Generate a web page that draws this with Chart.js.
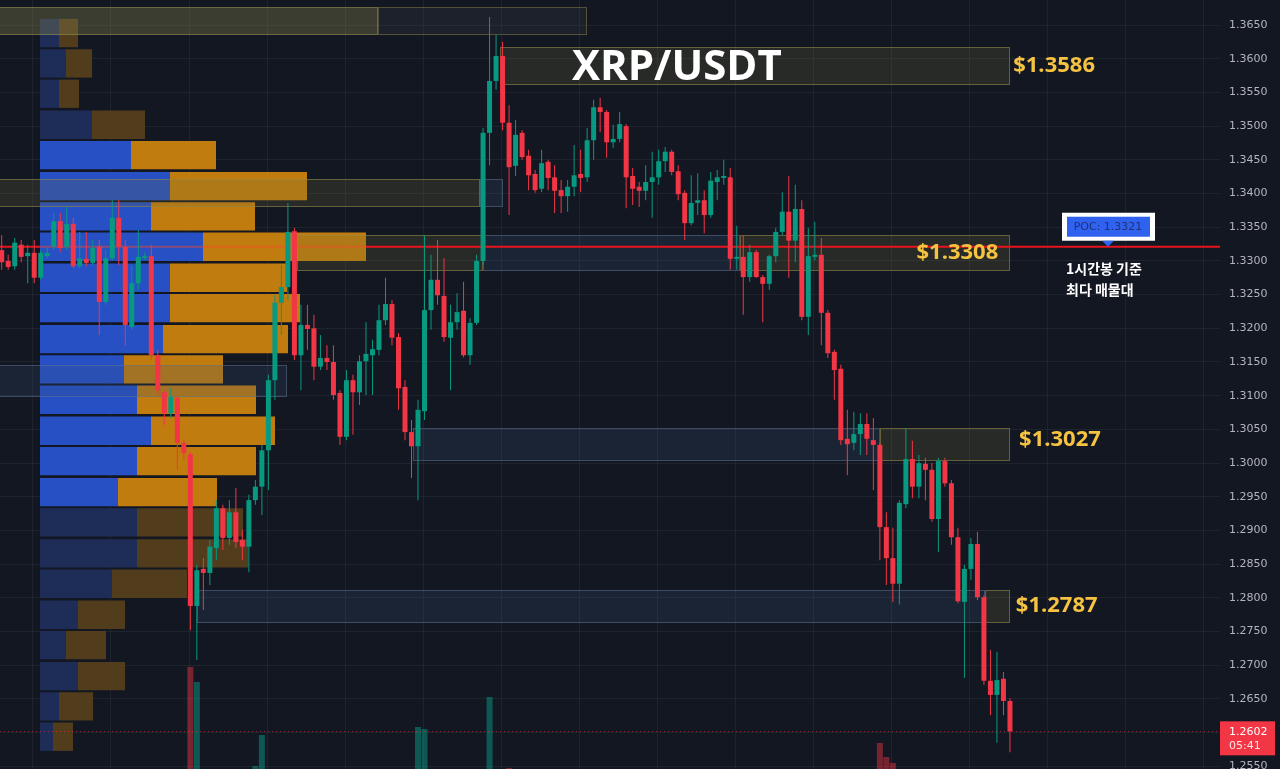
<!DOCTYPE html>
<html>
<head>
<meta charset="utf-8">
<script src="https://cdn.jsdelivr.net/npm/chart.js@4.4.1/dist/chart.umd.min.js"></script>
<style>
  html, body { margin: 0; padding: 0; background: #131722; overflow: hidden; }
  canvas { display: block; }
</style>
</head>
<body>
<canvas id="xrpChart" width="1280" height="769"></canvas>
<script>
// XRP/USDT hourly candles (index = candle number)
const opens = [1.3316,1.3300,1.3292,1.3324,1.3307,1.3312,1.3275,1.3307,1.3321,1.3359,1.3321,1.3355,1.3292,1.3303,1.3297,1.3321,1.3239,1.3304,1.3364,1.3321,
  1.3202,1.3267,1.3304,1.3307,1.3160,1.3105,1.3074,1.3097,1.3030,1.3013,1.2788,1.2843,1.2837,1.2874,1.2933,1.2889,1.2927,1.2886,1.2876,1.2945,
  1.2965,1.3019,1.3123,1.3238,1.3261,1.3344,1.3160,1.3205,1.3200,1.3143,1.3156,1.3150,1.3104,1.3039,1.3123,1.3105,1.3151,1.3160,1.3168,1.3212,
  1.3236,1.3187,1.3113,1.3046,1.3025,1.3077,1.3227,1.3272,1.3248,1.3186,1.3209,1.3226,1.3160,1.3208,1.3300,1.3490,1.3567,1.3604,1.3505,1.3441,
  1.3490,1.3456,1.3429,1.3407,1.3447,1.3424,1.3405,1.3396,1.3410,1.3429,1.3424,1.3479,1.3528,1.3521,1.3476,1.3481,1.3500,1.3426,1.3410,1.3404,
  1.3417,1.3424,1.3448,1.3462,1.3433,1.3401,1.3356,1.3386,1.3390,1.3368,1.3417,1.3423,1.3424,1.3303,1.3306,1.3276,1.3313,1.3276,1.3266,1.3307,
  1.3343,1.3373,1.3330,1.3377,1.3217,1.3306,1.3309,1.3223,1.3165,1.3140,1.3036,1.3030,1.3043,1.3058,1.3034,1.3027,1.2905,1.2859,1.2821,1.2939,
  1.3006,1.2965,1.2999,1.2990,1.2917,1.3003,1.2970,1.2890,1.2794,1.2843,1.2880,1.2801,1.2677,1.2656,1.2680,1.2647];
const highs = [1.3338,1.3309,1.3334,1.3331,1.3324,1.3331,1.3316,1.3319,1.3371,1.3371,1.3380,1.3364,1.3343,1.3343,1.3331,1.3331,1.3316,1.3390,1.3390,1.3331,
  1.3294,1.3346,1.3312,1.3324,1.3168,1.3108,1.3111,1.3101,1.3034,1.3016,1.2849,1.2859,1.2886,1.2945,1.2938,1.2945,1.2963,1.2901,1.2953,1.2975,
  1.3027,1.3131,1.3249,1.3294,1.3386,1.3349,1.3235,1.3235,1.3220,1.3190,1.3175,1.3175,1.3108,1.3138,1.3131,1.3160,1.3209,1.3183,1.3235,1.3275,
  1.3242,1.3193,1.3123,1.3064,1.3094,1.3338,1.3309,1.3331,1.3304,1.3235,1.3252,1.3269,1.3215,1.3309,1.3497,1.3662,1.3635,1.3625,1.3531,1.3509,
  1.3494,1.3465,1.3435,1.3465,1.3450,1.3442,1.3420,1.3420,1.3472,1.3465,1.3497,1.3539,1.3542,1.3524,1.3502,1.3521,1.3503,1.3438,1.3417,1.3442,
  1.3462,1.3465,1.3469,1.3465,1.3442,1.3405,1.3427,1.3430,1.3405,1.3432,1.3435,1.3450,1.3438,1.3352,1.3338,1.3324,1.3316,1.3279,1.3309,1.3349,
  1.3402,1.3426,1.3413,1.3390,1.3349,1.3358,1.3334,1.3227,1.3168,1.3146,1.3079,1.3076,1.3074,1.3074,1.3067,1.3030,1.2927,1.2904,1.2945,1.3052,
  1.3033,1.3012,1.3008,1.3000,1.3008,1.3008,1.2975,1.2904,1.2849,1.2889,1.2898,1.2804,1.2723,1.2720,1.2690,1.2651];
const lows = [1.3287,1.3287,1.3287,1.3298,1.3267,1.3267,1.3272,1.3304,1.3316,1.3313,1.3316,1.3289,1.3289,1.3292,1.3294,1.3190,1.3235,1.3301,1.3294,1.3175,
  1.3198,1.3257,1.3301,1.3153,1.3101,1.3057,1.3067,1.2990,1.3005,1.2752,1.2708,1.2782,1.2819,1.2856,1.2871,1.2879,1.2874,1.2856,1.2838,1.2938,
  1.2923,1.2960,1.3094,1.3190,1.3242,1.3153,1.3108,1.3168,1.3123,1.3138,1.3138,1.3094,1.3027,1.3034,1.3042,1.3086,1.3101,1.3101,1.3160,1.3205,
  1.3175,1.3079,1.3034,1.2978,1.2945,1.3064,1.3198,1.3235,1.3180,1.3108,1.3198,1.3157,1.3146,1.3205,1.3294,1.3442,1.3554,1.3494,1.3368,1.3426,
  1.3450,1.3405,1.3401,1.3402,1.3405,1.3371,1.3371,1.3373,1.3396,1.3402,1.3417,1.3450,1.3491,1.3453,1.3468,1.3476,1.3378,1.3383,1.3380,1.3390,
  1.3364,1.3413,1.3432,1.3427,1.3390,1.3331,1.3353,1.3368,1.3341,1.3364,1.3390,1.3413,1.3287,1.3287,1.3220,1.3269,1.3275,1.3209,1.3257,1.3298,
  1.3338,1.3275,1.3298,1.3212,1.3190,1.3301,1.3175,1.3156,1.3094,1.3027,1.2982,1.3019,1.3012,1.3012,1.2960,1.2856,1.2819,1.2794,1.2790,1.2933,
  1.2948,1.2948,1.2945,1.2913,1.2868,1.2965,1.2879,1.2792,1.2681,1.2827,1.2797,1.2671,1.2626,1.2585,1.2626,1.2571];
const closes = [1.3298,1.3291,1.3327,1.3306,1.3312,1.3275,1.3312,1.3312,1.3359,1.3319,1.3355,1.3292,1.3304,1.3297,1.3319,1.3239,1.3304,1.3364,1.3321,1.3205,
  1.3267,1.3306,1.3307,1.3160,1.3108,1.3074,1.3098,1.3030,1.3015,1.2788,1.2841,1.2837,1.2876,1.2933,1.2889,1.2927,1.2883,1.2876,1.2945,1.2965,
  1.3019,1.3123,1.3238,1.3261,1.3343,1.3160,1.3205,1.3199,1.3143,1.3156,1.3150,1.3101,1.3039,1.3123,1.3105,1.3151,1.3162,1.3169,1.3212,1.3236,
  1.3186,1.3111,1.3046,1.3025,1.3079,1.3227,1.3272,1.3249,1.3187,1.3209,1.3224,1.3160,1.3208,1.3300,1.3490,1.3567,1.3604,1.3505,1.3439,1.3487,
  1.3454,1.3427,1.3405,1.3445,1.3423,1.3404,1.3396,1.3410,1.3427,1.3423,1.3479,1.3528,1.3521,1.3476,1.3481,1.3503,1.3424,1.3407,1.3404,1.3417,
  1.3424,1.3448,1.3462,1.3432,1.3399,1.3356,1.3386,1.3390,1.3368,1.3419,1.3424,1.3426,1.3303,1.3306,1.3276,1.3313,1.3276,1.3266,1.3307,1.3343,
  1.3373,1.3330,1.3377,1.3217,1.3307,1.3309,1.3223,1.3163,1.3138,1.3034,1.3028,1.3043,1.3058,1.3036,1.3027,1.2905,1.2859,1.2821,1.2941,1.3006,
  1.2965,1.3000,1.2990,1.2917,1.3003,1.2970,1.2890,1.2795,1.2843,1.2880,1.2801,1.2677,1.2656,1.2678,1.2647,1.2602];

// bottom volume histogram: only the bars that rise into view
const volumeIdx = [29, 30, 39, 40, 64, 65, 75, 78, 135, 136, 137];
const volumeVals = [102, 87, 3, 34, 42, 40, 72, 1, 26, 12, 6];

// volume profile rows (mid price of each row), buy / sell volume
const profileLevels = [1.3638,1.3593,1.3548,1.3502,1.3457,1.3411,1.3366,1.3321,1.3275,1.3230,1.3184,1.3139,
  1.3094,1.3048,1.3003,1.2957,1.2912,1.2866,1.2821,1.2775,1.2730,1.2684,1.2639,1.2594];
const profileBuy  = [19,26,19,52,91,130,111,163,130,130,123,84,97,111,97,78,97,97,72,38,26,38,19,13];
const profileSell = [19,26,20,53,85,137,104,163,117,130,125,99,119,124,119,99,106,111,75,47,40,47,34,20];
const valueAreaFirst = 4, valueAreaLast = 15;

// supply / demand zones: candle index range and price range
const zoneFrom   = [-1, 57.9, 76.6, -1, 73.5, 45.4, 74.0, 113.5, -1, 63.2, 135.0, 30.0, 151.2];
const zoneTo     = [57.9, 90.0, 155.0, 73.5, 77.1, 74.0, 113.5, 155.0, 43.9, 135.0, 155.0, 151.2, 155.0];
const zoneTop    = [1.3677, 1.3677, 1.3617, 1.3421, 1.3421, 1.3338, 1.3338, 1.3338, 1.3145, 1.3052, 1.3052, 1.2812, 1.2812];
const zoneBottom = [1.3635, 1.3635, 1.3561, 1.3380, 1.3380, 1.3285, 1.3285, 1.3285, 1.3098, 1.3003, 1.3003, 1.2763, 1.2763];
const zoneKind   = ['oliveLight','gray','olive','olive','blue','olive','blue','olive','blue','blue','olive','blue','olive'];

const levelTexts  = ['$1.3586', '$1.3308', '$1.3027', '$1.2787'];
const levelIdx    = [155.5, 153.2, 156.4, 155.9];
const levelPrice  = [1.3589, 1.3312, 1.3035, 1.2788];
const levelAlign  = ['left', 'right', 'left', 'left'];

const pocPrice = 1.3321;
const lastPrice = 1.2602;
const countdown = '05:41';

const Y_MIN = 1.25461, Y_MAX = 1.36871;
const GREEN = '#089981', RED = '#f23645';
const GRID = 'rgba(42,46,57,0.55)';

const idx = opens.map((_, i) => i);
const up = opens.map((o, i) => closes[i] >= o);

const zoneStyles = {
    olive:      { fill: 'rgba(120,112,60,0.22)', stroke: 'rgba(150,140,75,0.55)' },
    oliveLight: { fill: 'rgba(140,135,80,0.34)', stroke: 'rgba(150,140,75,0.55)' },
    gray:       { fill: 'rgba(70,75,85,0.20)',   stroke: 'rgba(150,140,75,0.45)' },
    blue:       { fill: 'rgba(60,85,120,0.22)',  stroke: 'rgba(95,115,145,0.5)' }
};

const overlay = {
    id: 'overlay',
    afterDatasetDraw(chart, args) {
        if (chart.data.datasets[args.index].label !== 'Sell volume') return;
        const { ctx, chartArea: a, scales: { x, y, xv } } = chart;
        ctx.save();
        ctx.beginPath();
        ctx.rect(a.left, a.top, a.right - a.left, a.bottom - a.top);
        ctx.clip();
        zoneFrom.forEach((from, i) => {
            const st = zoneStyles[zoneKind[i]];
            const x0 = Math.round(x.getPixelForValue(from)), x1 = Math.round(x.getPixelForValue(zoneTo[i]));
            const y0 = Math.round(y.getPixelForValue(zoneTop[i])), y1 = Math.round(y.getPixelForValue(zoneBottom[i]));
            ctx.fillStyle = st.fill;
            ctx.fillRect(x0, y0, x1 - x0, y1 - y0);
            ctx.strokeStyle = st.stroke;
            ctx.lineWidth = 1;
            ctx.strokeRect(x0 + 0.5, y0 + 0.5, x1 - x0 - 1, y1 - y0 - 1);
        });
        // last price dotted line
        const yl = Math.round(y.getPixelForValue(lastPrice)) + 0.5;
        ctx.setLineDash([1, 3]);
        ctx.strokeStyle = 'rgba(242,54,69,0.55)';
        ctx.beginPath(); ctx.moveTo(a.left, yl); ctx.lineTo(a.right, yl); ctx.stroke();
        ctx.setLineDash([]);
        // POC line, faint where it crosses the profile
        const yp = y.getPixelForValue(pocPrice);
        const pocRow = profileLevels.indexOf(pocPrice);
        const px0 = xv.getPixelForValue(0), px1 = xv.getPixelForValue(profileBuy[pocRow] + profileSell[pocRow]);
        ctx.lineWidth = 2;
        ctx.strokeStyle = '#e8141c';
        ctx.beginPath(); ctx.moveTo(a.left, yp); ctx.lineTo(px0, yp); ctx.moveTo(px1, yp); ctx.lineTo(a.right, yp); ctx.stroke();
        ctx.strokeStyle = 'rgba(255,70,40,0.45)';
        ctx.beginPath(); ctx.moveTo(px0, yp); ctx.lineTo(px1, yp); ctx.stroke();
        ctx.restore();
    },
    afterDraw(chart) {
        const { ctx, chartArea: a, scales: { x, y } } = chart;
        ctx.save();
        // title
        ctx.fillStyle = '#ffffff';
        ctx.font = 'bold 42px "Open Sans"';
        ctx.textAlign = 'left';
        ctx.textBaseline = 'alphabetic';
        ctx.fillText('XRP/USDT', 572, 80);
        // level labels
        ctx.fillStyle = '#f5c341';
        ctx.font = 'bold 22px "Open Sans"';
        ctx.textBaseline = 'middle';
        levelTexts.forEach((t, i) => {
            ctx.textAlign = levelAlign[i];
            ctx.fillText(t, x.getPixelForValue(levelIdx[i]), y.getPixelForValue(levelPrice[i]));
        });
        // POC tag
        const yp = y.getPixelForValue(pocPrice);
        ctx.fillStyle = '#ffffff';
        ctx.fillRect(1062, yp - 34, 93, 28);
        ctx.fillStyle = '#2f62ee';
        ctx.fillRect(1067, yp - 30, 83, 20);
        ctx.beginPath();
        ctx.moveTo(1102, yp - 6); ctx.lineTo(1114, yp - 6); ctx.lineTo(1108, yp); ctx.closePath();
        ctx.fill();
        ctx.fillStyle = '#1f3279';
        ctx.font = '11px "DejaVu Sans"';
        ctx.textAlign = 'center';
        ctx.fillText('POC: ' + pocPrice.toFixed(4), 1108, yp - 20);
        // note under the POC line
        ctx.fillStyle = '#ffffff';
        ctx.font = 'bold 14px "Noto Sans CJK KR"';
        ctx.textAlign = 'left';
        ctx.fillText('1시간봉 기준', 1066, 269);
        ctx.fillText('최다 매물대', 1066, 290);
        // last price tag on the axis
        const yl = y.getPixelForValue(lastPrice);
        ctx.fillStyle = RED;
        ctx.fillRect(a.right, yl - 10, 55, 34);
        ctx.fillStyle = '#ffffff';
        ctx.font = '11px "DejaVu Sans"';
        ctx.fillText(lastPrice.toFixed(4), a.right + 9, yl + 1);
        ctx.fillStyle = '#fde3e6';
        ctx.fillText(countdown, a.right + 9, yl + 15);
        ctx.restore();
    }
};

const ctx = document.getElementById('xrpChart');
new Chart(ctx, {
    type: 'bar',
    data: {
        datasets: [
            {
                label: 'Bodies', order: 1, xAxisID: 'x', yAxisID: 'y',
                data: idx.map(i => ({ x: i, y: [opens[i], closes[i]] })),
                backgroundColor: up.map(u => u ? GREEN : RED),
                grouped: false, categoryPercentage: 1, barPercentage: 0.8, maxBarThickness: 5, minBarLength: 1
            },
            {
                label: 'Wicks', order: 2, xAxisID: 'x', yAxisID: 'y',
                data: idx.map(i => ({ x: i, y: [lows[i], highs[i]] })),
                backgroundColor: up.map(u => u ? GREEN : RED),
                grouped: false, categoryPercentage: 1, barPercentage: 0.3, maxBarThickness: 1
            },
            {
                label: 'Sell volume', order: 4, indexAxis: 'y', xAxisID: 'xv', yAxisID: 'yp',
                data: profileLevels.map((p, k) => ({ y: p, x: [profileBuy[k], profileBuy[k] + profileSell[k]] })),
                backgroundColor: profileLevels.map((_, k) => (k >= valueAreaFirst && k <= valueAreaLast) ? 'rgba(201,130,14,0.95)' : 'rgba(84,62,28,0.95)'),
                grouped: false, categoryPercentage: 1, barPercentage: 0.935
            },
            {
                label: 'Buy volume', order: 5, indexAxis: 'y', xAxisID: 'xv', yAxisID: 'yp',
                data: profileLevels.map((p, k) => ({ y: p, x: profileBuy[k] })),
                backgroundColor: profileLevels.map((_, k) => (k >= valueAreaFirst && k <= valueAreaLast) ? 'rgba(39,83,204,0.95)' : 'rgba(30,46,92,0.95)'),
                grouped: false, categoryPercentage: 1, barPercentage: 0.935
            },
            {
                label: 'Volume', order: 6, xAxisID: 'x', yAxisID: 'yVol',
                data: volumeIdx.map((i, k) => ({ x: i, y: volumeVals[k] })),
                backgroundColor: volumeIdx.map(i => up[i] ? 'rgba(8,153,129,0.5)' : 'rgba(242,54,69,0.45)'),
                grouped: false, categoryPercentage: 1, barPercentage: 0.95, maxBarThickness: 6
            }
        ]
    },
    options: {
        responsive: false,
        animation: false,
        events: [],
        layout: { padding: 0 },
        plugins: { legend: { display: false }, tooltip: { enabled: false } },
        scales: {
            x: {
                type: 'linear', min: -0.26, max: 187.29, offset: false,
                grid: { color: GRID, drawTicks: false, offset: false },
                border: { display: false },
                ticks: { display: false },
                afterBuildTicks: s => { s.ticks = [4.8,16.8,28.8,40.8,52.8,64.8,76.8,88.8,100.8,112.8,124.8,136.8,148.8,160.8,172.8,184.8].map(v => ({ value: v })); },
                afterFit: s => { s.height = 0; }
            },
            y: {
                type: 'linear', position: 'right', min: Y_MIN, max: Y_MAX, offset: false,
                grid: { color: GRID, drawTicks: false },
                border: { display: false },
                ticks: {
                    stepSize: 0.005, includeBounds: false, autoSkip: false, padding: 9,
                    color: '#b2b5be', font: { family: 'DejaVu Sans', size: 11 },
                    callback: v => v.toFixed(4)
                },
                afterFit: s => { s.width = 60; s.paddingTop = 0; s.paddingBottom = 0; }
            },
            yp: { type: 'linear', axis: 'y', display: false, offset: false, min: Y_MIN, max: Y_MAX, ticks: { stepSize: 0.05 } },
            xv: { type: 'linear', axis: 'x', display: false, offset: false, min: -40, max: 1180 },
            yVol: { type: 'linear', axis: 'y', display: false, offset: false, min: 0, max: 769 }
        }
    },
    plugins: [overlay]
});
</script>
</body>
</html>
